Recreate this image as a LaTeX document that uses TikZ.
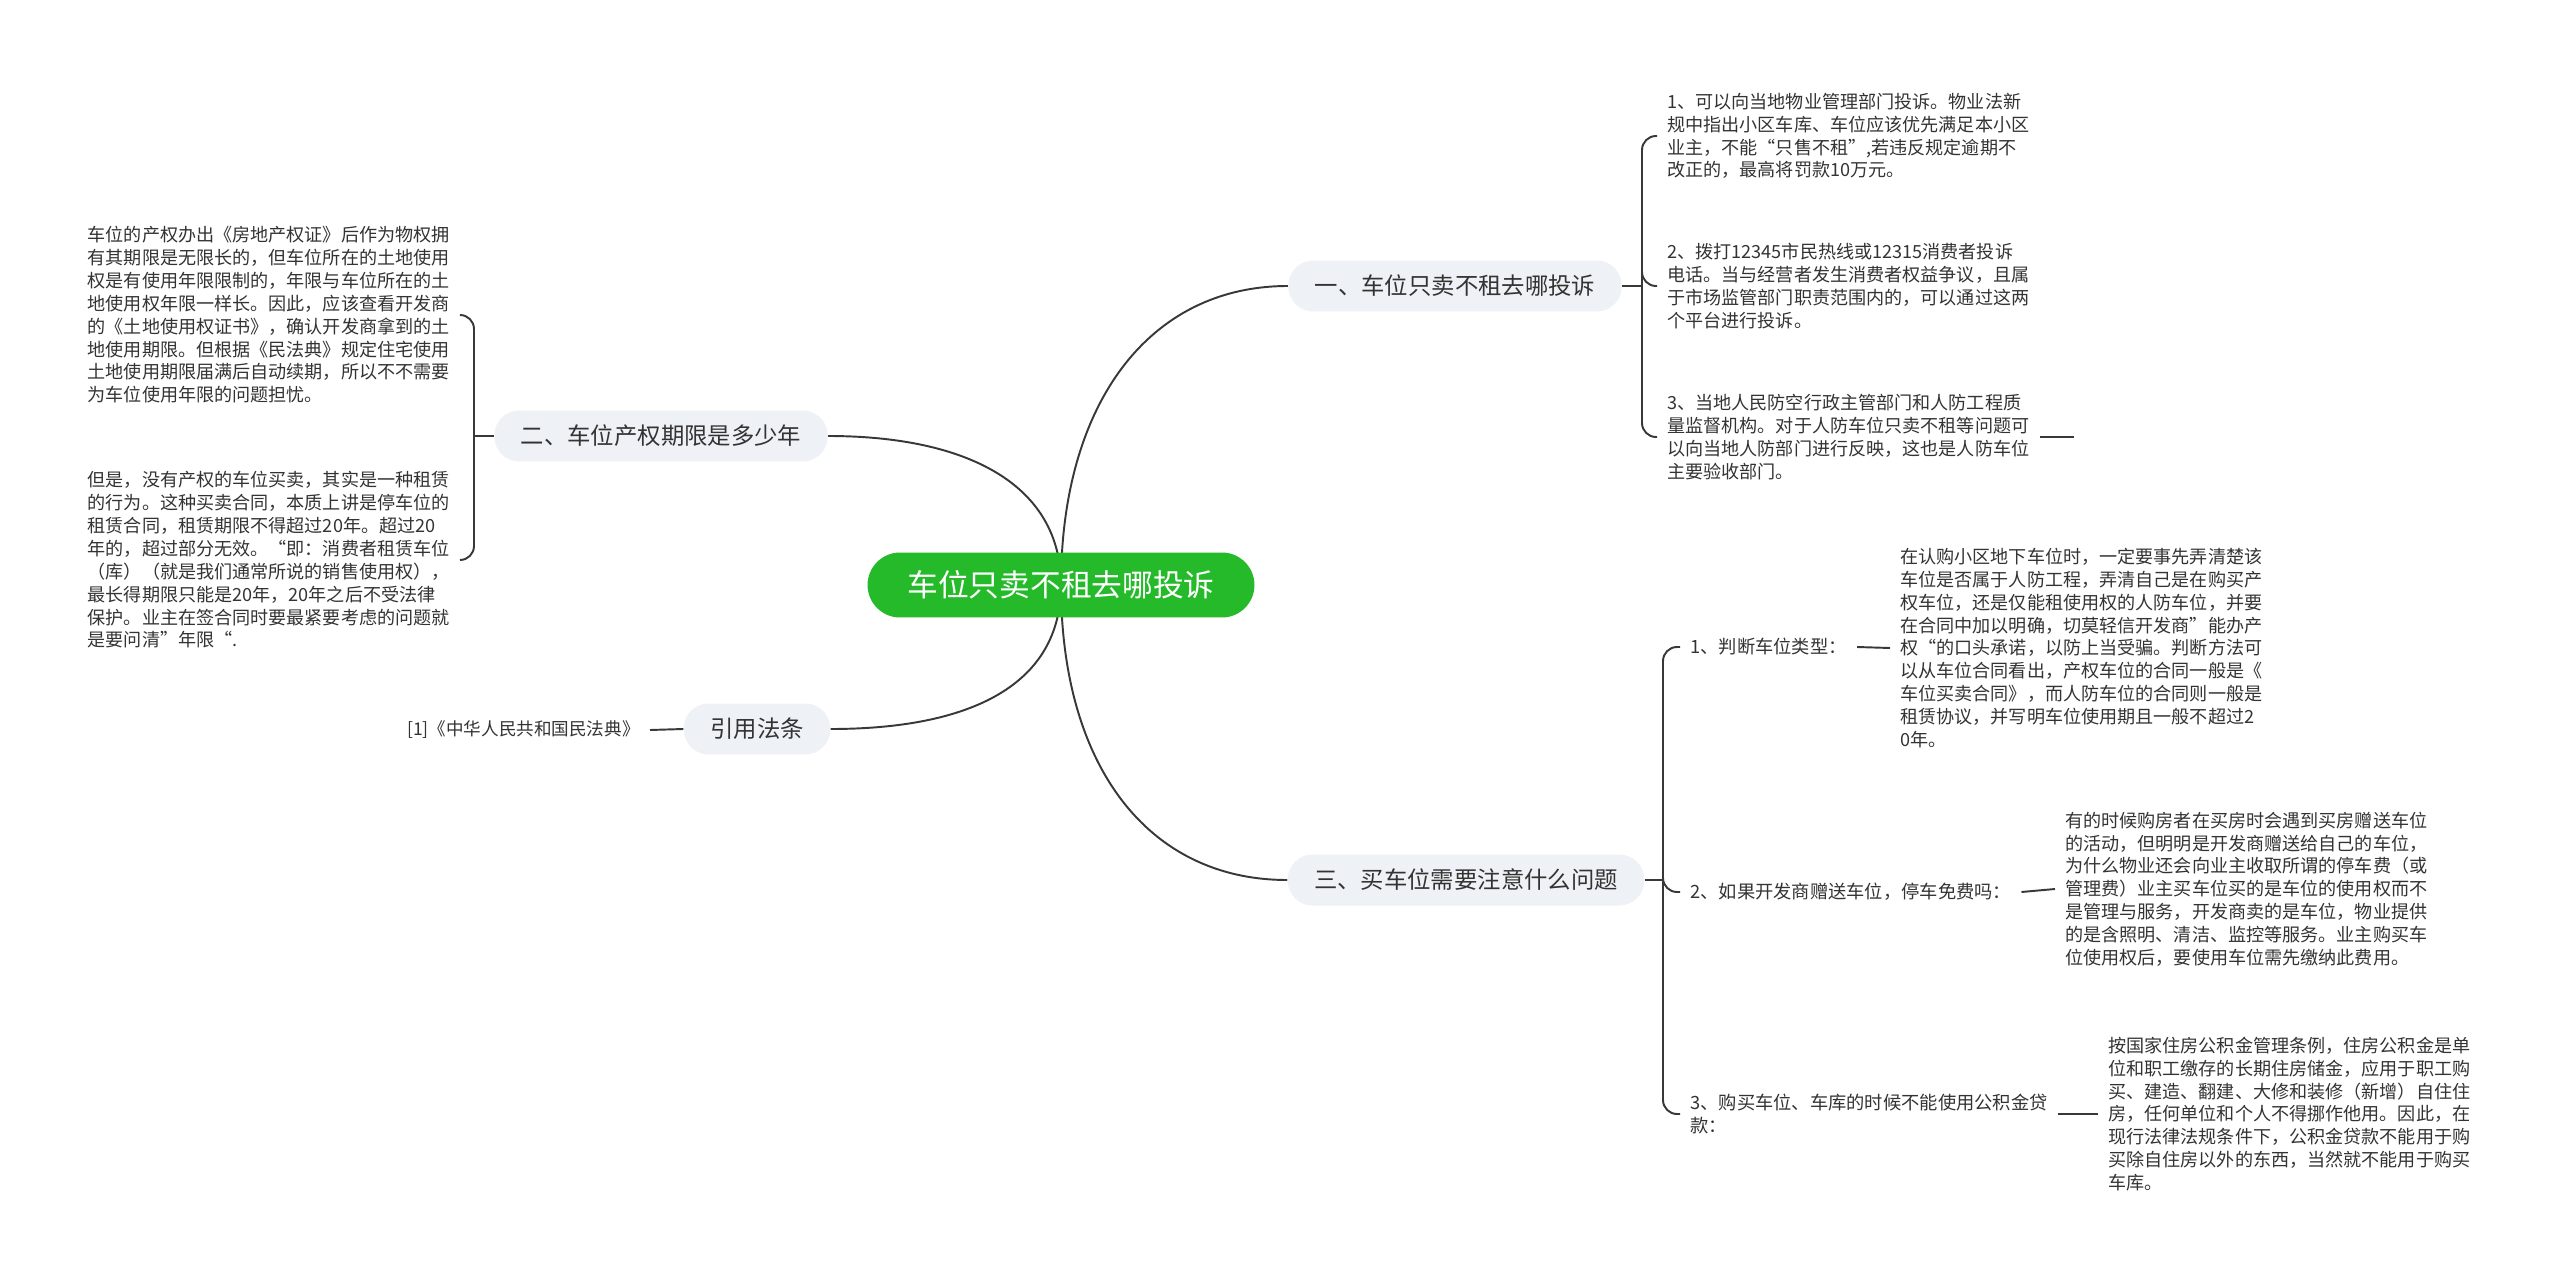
\documentclass[tikz,border=0pt]{standalone}
\usepackage{fontspec}
\setmainfont{Noto Sans CJK SC}
\usetikzlibrary{backgrounds}
\definecolor{rootgreen}{RGB}{36,186,42}
\definecolor{topicgray}{RGB}{238,241,245}
\definecolor{inkgray}{RGB}{51,51,51}
\definecolor{linkgray}{RGB}{56,56,56}

\begin{document}
\begin{tikzpicture}[x=0.02cm,y=-0.02cm,
  rootbox/.style={fill=rootgreen,text=white,rounded corners=0.65cm,
    minimum width=7.74cm,minimum height=1.3cm,inner sep=0pt,
    font=\fontsize{17.5}{20}\selectfont},
  topicbox/.style={fill=topicgray,text=inkgray,rounded corners=0.5cm,
    minimum height=1.02cm,inner xsep=0.53cm,inner ysep=0pt,
    font=\fontsize{13.3}{16}\selectfont},
  leaftext/.style={text=inkgray,align=left,inner sep=0.2cm,
    font=\fontsize{10.3}{13}\selectfont},
  subtext/.style={leaftext,font=\fontsize{10.4}{13}\selectfont},
  link/.style={draw=linkgray,line width=1.1pt},
  fork/.style={link,rounded corners=0.28cm}]

  \useasboundingbox (0,0) rectangle (2560,1284);

  % Root
  \node[rootbox] (root) at (1061,585) {车位只卖不租去哪投诉};

  % Topics
  \node[topicbox] (rent) at (1455,286) {一、车位只卖不租去哪投诉};
  \node[topicbox] (term) at (661,436) {二、车位产权期限是多少年};
  \node[topicbox] (law) at (757,729) {引用法条};
  \node[topicbox] (buy) at (1466,880) {三、买车位需要注意什么问题};

  % Topic 1: leaves
  \node[leaftext,anchor=west] (rent1) at (1657,136)
    {1、可以向当地物业管理部门投诉。物业法新\\规中指出小区车库、车位应该优先满足本小区\\业主，不能“只售不租”,若违反规定逾期不\\改正的，最高将罚款10万元。};
  \node[leaftext,anchor=west] (rent2) at (1657,286)
    {2、拨打12345市民热线或12315消费者投诉\\电话。当与经营者发生消费者权益争议，且属\\于市场监管部门职责范围内的，可以通过这两\\个平台进行投诉。};
  \node[leaftext,anchor=west] (rent3) at (1657,437)
    {3、当地人民防空行政主管部门和人防工程质\\量监督机构。对于人防车位只卖不租等问题可\\以向当地人防部门进行反映，这也是人防车位\\主要验收部门。};
  \coordinate (rent3tail) at (2074,437);

  % Topic 2: leaves
  \node[leaftext,anchor=east] (term1) at (460,315)
    {车位的产权办出《房地产权证》后作为物权拥\\有其期限是无限长的，但车位所在的土地使用\\权是有使用年限限制的，年限与车位所在的土\\地使用权年限一样长。因此，应该查看开发商\\的《土地使用权证书》，确认开发商拿到的土\\地使用期限。但根据《民法典》规定住宅使用\\土地使用期限届满后自动续期，所以不不需要\\为车位使用年限的问题担忧。};
  \node[leaftext,anchor=east] (term2) at (460,560)
    {但是，没有产权的车位买卖，其实是一种租赁\\的行为。这种买卖合同，本质上讲是停车位的\\租赁合同，租赁期限不得超过20年。超过20\\年的，超过部分无效。“即：消费者租赁车位\\（库）（就是我们通常所说的销售使用权），\\最长得期限只能是20年，20年之后不受法律\\保护。业主在签合同时要最紧要考虑的问题就\\是要问清”年限“.};

  % Cited law
  \node[leaftext,anchor=east,font=\fontsize{10}{13}\selectfont] (law1) at (650,730)
    {[1]《中华人民共和国民法典》};

  % Topic 3: questions and answers
  \node[subtext,anchor=west] (buy1) at (1680,647) {1、判断车位类型：};
  \node[subtext,anchor=west] (buy2) at (1680,892) {2、如果开发商赠送车位，停车免费吗：};
  \node[subtext,anchor=west] (buy3) at (1680,1114) {3、购买车位、车库的时候不能使用公积金贷\\款：};
  \node[leaftext,anchor=west] (buy1x) at (1890,648)
    {在认购小区地下车位时，一定要事先弄清楚该\\车位是否属于人防工程，弄清自己是在购买产\\权车位，还是仅能租使用权的人防车位，并要\\在合同中加以明确，切莫轻信开发商”能办产\\权“的口头承诺，以防上当受骗。判断方法可\\以从车位合同看出，产权车位的合同一般是《\\车位买卖合同》，而人防车位的合同则一般是\\租赁协议，并写明车位使用期且一般不超过2\\0年。};
  \node[leaftext,anchor=west] (buy2x) at (2055,889)
    {有的时候购房者在买房时会遇到买房赠送车位\\的活动，但明明是开发商赠送给自己的车位，\\为什么物业还会向业主收取所谓的停车费（或\\管理费）业主买车位买的是车位的使用权而不\\是管理与服务，开发商卖的是车位，物业提供\\的是含照明、清洁、监控等服务。业主购买车\\位使用权后，要使用车位需先缴纳此费用。};
  \node[leaftext,anchor=west] (buy3x) at (2098,1114)
    {按国家住房公积金管理条例，住房公积金是单\\位和职工缴存的长期住房储金，应用于职工购\\买、建造、翻建、大修和装修（新增）自住住\\房，任何单位和个人不得挪作他用。因此，在\\现行法律法规条件下，公积金贷款不能用于购\\买除自住房以外的东西，当然就不能用于购买\\车库。};

  % Connectors
  \begin{pgfonlayer}{background}
    \fill[white] (0,0) rectangle (2560,1284);
    \draw[link] (root.center) .. controls +(0,-180) and +(-140,0) .. (rent.west);
    \draw[link] (root.center) .. controls +(0,180) and +(-140,0) .. (buy.west);
    \draw[link] (root.center) .. controls +(0,-100) and +(140,0) .. (term.east);
    \draw[link] (root.center) .. controls +(0,100) and +(140,0) .. (law.east);
  \end{pgfonlayer}

  \draw[link] (rent.east) -- (1642,286) coordinate (rentfork);
  \foreach \leaf in {rent1,rent2,rent3}
    \draw[fork] (rentfork) |- (\leaf.west);
  \draw[link] (rent3.east) -- (rent3tail);

  \draw[link] (term.west) -- (474,436) coordinate (termfork);
  \foreach \leaf in {term1,term2}
    \draw[fork] (termfork) |- (\leaf.east);

  \draw[link] (law.west) -- (law1.east);

  \draw[link] (buy.east) -- (1663,880) coordinate (buyfork);
  \foreach \leaf in {buy1,buy2,buy3}
    \draw[fork] (buyfork) |- (\leaf.west);
  \foreach \q in {buy1,buy2,buy3}
    \draw[link] (\q.east) -- (\q x.west);
\end{tikzpicture}
\end{document}
